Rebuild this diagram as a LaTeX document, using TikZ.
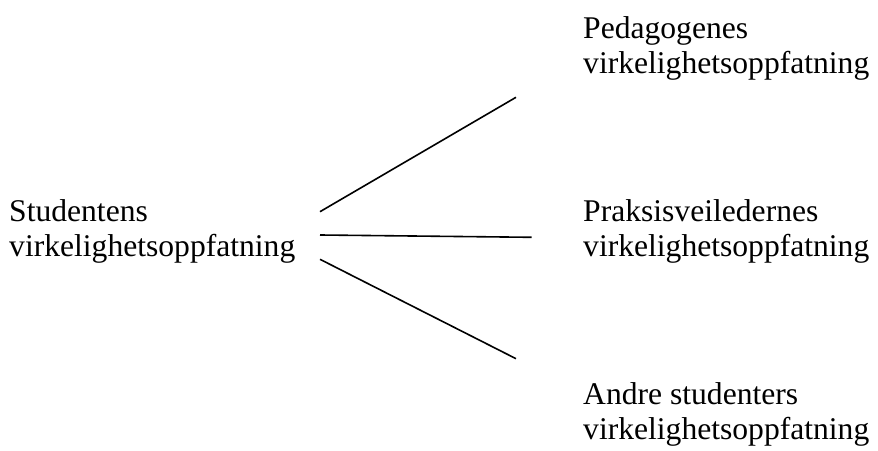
\documentclass[tikz,border=0pt]{standalone}
\usepackage{fontspec}
\setmainfont{Liberation Serif}
\begin{document}
\begin{tikzpicture}[x=1pt,y=1pt,
  label text/.style={anchor=base west,inner sep=0pt,align=left,
    font=\fontsize{31.6}{35}\selectfont},
  link/.style={line width=1.6pt}]
\useasboundingbox (0,0) rectangle (878,450);
% perspectives (anchored at the baseline of the last line)
\node[label text] (stud) at (9,193.3) {Studentens\\virkelighetsoppfatning};
\node[label text] (ped)  at (583,376.7) {Pedagogenes\\virkelighetsoppfatning};
\node[label text] (prak) at (583,193.5) {Praksisveiledernes\\virkelighetsoppfatning};
\node[label text] (andr) at (583,10.5) {Andre studenters\\virkelighetsoppfatning};
% connector ends
\coordinate (s1) at (320,238.3);
\coordinate (s2) at (320,215);
\coordinate (s3) at (320,190.7);
\coordinate (p1) at (516,352.7);
\coordinate (p2) at (531.7,212.7);
\coordinate (p3) at (516,91.3);
\draw[link] (s1) -- (p1);
\draw[link] (s2) -- (p2);
\draw[link] (s3) -- (p3);
\end{tikzpicture}
\end{document}
